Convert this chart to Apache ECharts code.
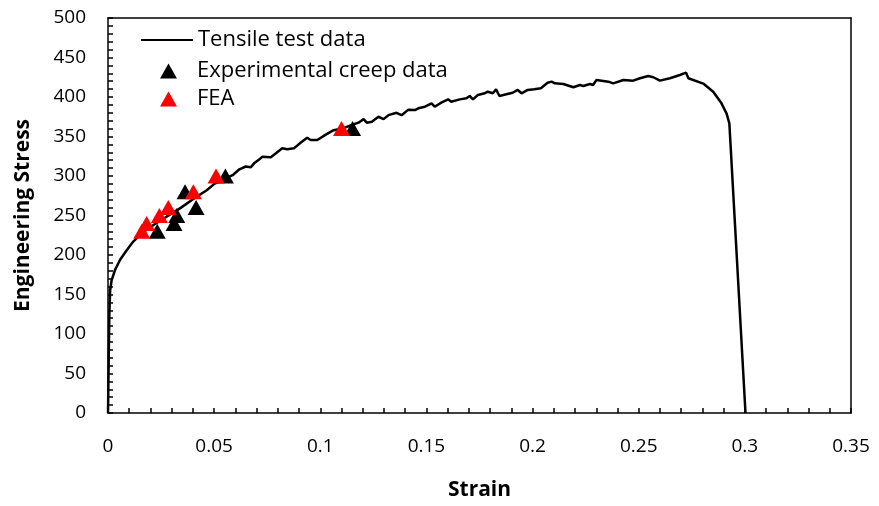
<!DOCTYPE html>
<html>
<head>
<meta charset="utf-8">
<script src="https://cdn.jsdelivr.net/npm/echarts@6/dist/echarts.min.js"></script>
<style>
html,body{margin:0;padding:0;background:#fff;}
#chart{width:879px;height:506px;}
</style>
</head>
<body>
<div id="chart"></div>
<script>
// Tensile test curve
var tensileStrain = [0,0.0003,0.0006,0.001,0.0017,0.0033,0.0057,0.0088,0.0119,0.0159,0.0214,0.0276,0.0339,0.0402,0.0465,0.0501,0.054,0.0587,0.0619,0.0649,0.0673,0.0688,0.0712,0.0728,0.0767,0.0791,0.0821,0.0844,0.0876,0.0907,0.0938,0.0955,0.0986,0.1024,0.1063,0.1102,0.1149,0.118,0.1204,0.1219,0.1243,0.1274,0.1298,0.1321,0.1359,0.1383,0.1415,0.1446,0.1462,0.1493,0.1524,0.1539,0.157,0.1602,0.1617,0.1657,0.1688,0.1704,0.1719,0.1742,0.1774,0.1789,0.1813,0.1828,0.1844,0.1876,0.1906,0.193,0.1948,0.1977,0.2008,0.2039,0.2071,0.2089,0.2105,0.2145,0.2192,0.2223,0.2239,0.227,0.2285,0.2301,0.2325,0.2357,0.238,0.2428,0.2474,0.2506,0.2545,0.2569,0.26,0.2647,0.2694,0.2723,0.2734,0.2804,0.2851,0.289,0.2914,0.2927,0.3003];
var tensileStress = [0,60,120,155,168,181,194,206,217,227.5,238,248.5,259,271,282,290,295,301,308.5,312,311,316,321,324.5,323.7,328.7,335,333.8,335,342,348.5,345.6,345.6,352,358,360,364.5,367.5,372,367.5,368.7,375,372,377,380,377,384,383.5,385.7,387.7,392,387.7,392.8,397,394,397,398.4,401.3,397,402.5,404.7,406.7,404.7,409.7,401.3,403.4,405.4,408.9,404.7,408.9,409.7,411,418,419.4,417.3,416.5,412.3,415.2,413.9,416.5,415.2,421.5,420.7,419.4,417.3,421.5,420.7,423.7,426.6,425,420.7,423.7,427.8,430.8,423.7,417,406.7,392,379,366.7,0];

// Experimental creep data
var expStrain = [0.0232,0.0311,0.0324,0.0415,0.0363,0.0553,0.1152];
var expStress = [230,240,250,260,280,300,360];

// FEA
var feaStrain = [0.0159,0.0182,0.0242,0.0284,0.0402,0.0509,0.110];
var feaStress = [230,240,250,260,280,300,360];

// Tick labels
var xTickLabels = ['0','0.05','0.1','0.15','0.2','0.25','0.3','0.35'];
var yTickLabels = ['0','50','100','150','200','250','300','350','400','450','500'];

function zip(a,b){var r=[];for(var i=0;i<a.length;i++){r.push([a[i],b[i]]);}return r;}

var FONT = 'Open Sans';
var chart = echarts.init(document.getElementById('chart'), null, {renderer:'canvas'});

var frameAxis = {
  axisLine:{show:true, onZero:false, lineStyle:{color:'#000', width:1.5}},
  axisTick:{show:false}, minorTick:{show:false}, axisLabel:{show:false}, splitLine:{show:false}
};

chart.setOption({
  animation:false,
  backgroundColor:'#ffffff',
  textStyle:{fontFamily:FONT},
  grid:{left:108, right:28, top:18, bottom:90, show:false},
  legend:[{
    orient:'vertical', left:135, top:24, itemWidth:52, itemHeight:14,
    textStyle:{fontFamily:FONT, fontSize:22, color:'#000'},
    data:[{name:'Tensile test data', itemStyle:{color:'rgba(0,0,0,0)', borderColor:'rgba(0,0,0,0)', borderWidth:0}}]
  },{
    orient:'vertical', left:155, top:55, itemWidth:17, itemHeight:15, itemGap:6,
    textStyle:{fontFamily:FONT, fontSize:22, color:'#000', padding:[0,0,0,15]},
    data:['Experimental creep data','FEA']
  }],
  xAxis:[{
    type:'value', min:0, max:0.35, interval:0.01, position:'bottom',
    name:'Strain', nameLocation:'middle', nameGap:67,
    nameTextStyle:{fontFamily:FONT, fontWeight:'bold', fontSize:21, color:'#000'},
    axisLine:{show:true, onZero:false, lineStyle:{color:'#000', width:1.5}},
    axisTick:{show:true, inside:true, length:5, interval:0, lineStyle:{color:'#000', width:1.5}},
    splitLine:{show:false},
    axisLabel:{margin:24, fontSize:19, color:'#000', fontFamily:FONT, showMinLabel:true, showMaxLabel:true, hideOverlap:false,
      formatter:function(v){var k=Math.round(v*100);if(k%5!==0)return '';var i=k/5;return xTickLabels[i]!==undefined?xTickLabels[i]:'';}}
  }, Object.assign({type:'value', min:0, max:0.35, position:'top'}, frameAxis)],
  yAxis:[{
    type:'value', min:0, max:500, interval:10, position:'left',
    name:'Engineering Stress', nameLocation:'middle', nameGap:74,
    nameTextStyle:{fontFamily:FONT, fontWeight:'bold', fontSize:21, color:'#000'},
    axisLine:{show:true, onZero:false, lineStyle:{color:'#000', width:1.5}},
    axisTick:{show:true, inside:true, length:5, interval:0, lineStyle:{color:'#000', width:1.5}},
    splitLine:{show:false},
    axisLabel:{margin:22, fontSize:19, color:'#000', fontFamily:FONT, showMinLabel:true, showMaxLabel:true, hideOverlap:false,
      formatter:function(v){var k=Math.round(v);if(k%50!==0)return '';var i=k/50;return yTickLabels[i]!==undefined?yTickLabels[i]:'';}}
  }, Object.assign({type:'value', min:0, max:500, position:'right'}, frameAxis)],
  series:[
    {name:'Tensile test data', type:'line', data:zip(tensileStrain,tensileStress), symbol:'none', smooth:false,
     lineStyle:{color:'#000', width:2.5}, itemStyle:{color:'#000'}, z:2},
    {name:'Experimental creep data', type:'scatter', data:zip(expStrain,expStress), symbol:'triangle', symbolSize:[17,15],
     itemStyle:{color:'#000', opacity:1}, z:3},
    {name:'FEA', type:'scatter', data:zip(feaStrain,feaStress), symbol:'triangle', symbolSize:[17,15],
     itemStyle:{color:'#ff0000', opacity:1}, z:4}
  ]
});
</script>
</body>
</html>
